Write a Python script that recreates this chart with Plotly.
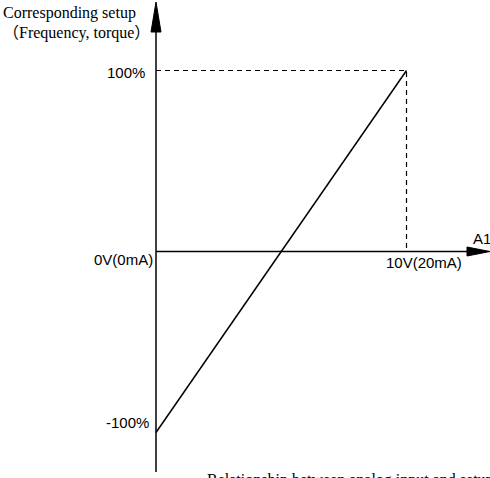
import plotly.graph_objects as go

# Data
x_input = [0, 10]          # analog input (V)
y_setup = [-100, 100]      # corresponding setup (%)
y_ticks = [100, 0, -100]
y_tick_labels = ["100%", "0V(0mA)", "-100%"]
x_tick_value = 10
x_tick_label = "10V(20mA)"

# pixel mapping helpers (layout only)
W, H = 490, 478
x0_px, px_per_x = 156, 25.05
y0_px, px_per_y = 251.5, 1.81
x_range = [-x0_px / px_per_x, (W - x0_px) / px_per_x]
y_range = [-(H - y0_px) / px_per_y, y0_px / px_per_y]

fig = go.Figure()

# dashed guides
fig.add_trace(go.Scatter(x=[x_input[0], x_input[1], x_input[1]],
                         y=[y_setup[1], y_setup[1], 0],
                         mode="lines", line=dict(color="black", width=1.2, dash="5px,4px"),
                         hoverinfo="skip", showlegend=False))
# main line
fig.add_trace(go.Scatter(x=x_input, y=y_setup, mode="lines",
                         line=dict(color="black", width=1.5),
                         hoverinfo="skip", showlegend=False))

shapes = []
# vertical axis
shapes.append(dict(type="line", xref="x", yref="y", x0=0, x1=0,
                   y0=y_range[0] + 6 / px_per_y, y1=y_range[1] - 28 / px_per_y,
                   line=dict(color="black", width=1.5)))
# vertical arrow head
tip_y = y_range[1] - 2 / px_per_y
base_y = y_range[1] - 32 / px_per_y
hw = 5 / px_per_x
shapes.append(dict(type="path", xref="x", yref="y",
                   path=f"M {-hw} {base_y} L 0 {tip_y} L {hw} {base_y} Z",
                   fillcolor="black", line=dict(color="black", width=1)))
# horizontal axis
hx_end = x_range[1] - 23 / px_per_x
shapes.append(dict(type="line", xref="x", yref="y", x0=0, x1=hx_end, y0=0, y1=0,
                   line=dict(color="black", width=1.5)))
# horizontal arrow head
hh = 4.5 / px_per_y
shapes.append(dict(type="path", xref="x", yref="y",
                   path=f"M {hx_end} {-hh} L {x_range[1]} 0 L {hx_end} {hh} Z",
                   fillcolor="black", line=dict(color="black", width=1)))

annotations = []
sans = "Liberation Sans, Arial, sans-serif"
serif = "Liberation Serif, Times New Roman, serif"
y_off = {100: -2, 0: -8, -100: 10}
x_off = {100: -9, 0: -1, -100: -5}
for v, lab in zip(y_ticks, y_tick_labels):
    annotations.append(dict(x=x_off[v] / px_per_x, y=v + y_off[v] / px_per_y, xref="x", yref="y",
                            text=lab, showarrow=False, xanchor="right", yanchor="middle",
                            font=dict(family=sans, size=15, color="black")))
annotations.append(dict(x=x_tick_value + 17 / px_per_x, y=-11 / px_per_y, xref="x", yref="y",
                        text=x_tick_label, showarrow=False, xanchor="center", yanchor="middle",
                        font=dict(family=sans, size=15, color="black")))
annotations.append(dict(x=471 / W, y=1 - 238 / H, xref="paper", yref="paper",
                        text="A1", showarrow=False, xanchor="left", yanchor="middle",
                        font=dict(family=sans, size=15, color="black")))
annotations.append(dict(x=1 / W, y=1 - 13 / H, xref="paper", yref="paper",
                        text="Corresponding setup", showarrow=False, xanchor="left", yanchor="middle",
                        font=dict(family=serif, size=16, color="black")))
annotations.append(dict(x=1 / W, y=1 - 33 / H, xref="paper", yref="paper",
                        text="（Frequency, torque）", showarrow=False, xanchor="left", yanchor="middle",
                        font=dict(family=serif + ", Noto Sans CJK SC", size=16, color="black")))
annotations.append(dict(x=205 / W, y=1 - 469 / H, xref="paper", yref="paper",
                        text="Relationship between analog input and setup", showarrow=False,
                        xanchor="left", yanchor="top",
                        font=dict(family=serif, size=16, color="black")))

fig.update_layout(
    width=W, height=H, margin=dict(l=0, r=0, t=0, b=0),
    paper_bgcolor="white", plot_bgcolor="white",
    xaxis=dict(range=x_range, visible=False, fixedrange=True),
    yaxis=dict(range=y_range, visible=False, fixedrange=True),
    shapes=shapes, annotations=annotations, showlegend=False,
)

fig.write_html("out.html", post_script="document.body.style.margin='0';",
               config={"displayModeBar": False})
